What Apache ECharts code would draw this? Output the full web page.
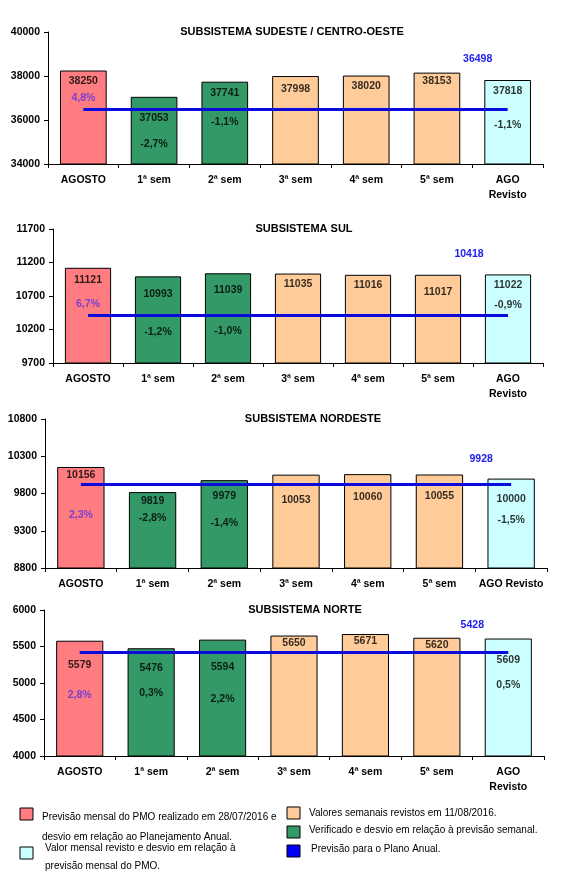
<!DOCTYPE html>
<html><head><meta charset="utf-8">
<script src="https://cdn.jsdelivr.net/npm/echarts@6/dist/echarts.min.js"></script>
<style>html,body{margin:0;padding:0;background:#fff}#c{width:572px;height:892px}</style>
</head><body><div id="c"></div>
<script>
// ---------- DATA ----------
const categories = ['AGOSTO', '1ª sem', '2ª sem', '3ª sem', '4ª sem', '5ª sem', 'AGO\nRevisto'];
const categoriesNE = ['AGOSTO', '1ª sem', '2ª sem', '3ª sem', '4ª sem', '5ª sem', 'AGO Revisto'];

const titleSE = 'SUBSISTEMA SUDESTE / CENTRO-OESTE';
const valuesSE = [38250, 37053, 37741, 37998, 38020, 38153, 37818];
const pctSE = ['4,8%', '-2,7%', '-1,1%', '', '', '', '-1,1%'];
const planSE = 36498;
const ticksSE = { min: 34000, max: 40000, interval: 2000 };

const titleS = 'SUBSISTEMA SUL';
const valuesS = [11121, 10993, 11039, 11035, 11016, 11017, 11022];
const pctS = ['6,7%', '-1,2%', '-1,0%', '', '', '', '-0,9%'];
const planS = 10418;
const ticksS = { min: 9700, max: 11700, interval: 500 };

const titleNE = 'SUBSISTEMA NORDESTE';
const valuesNE = [10156, 9819, 9979, 10053, 10060, 10055, 10000];
const pctNE = ['2,3%', '-2,8%', '-1,4%', '', '', '', '-1,5%'];
const planNE = 9928;
const ticksNE = { min: 8800, max: 10800, interval: 500 };

const titleN = 'SUBSISTEMA NORTE';
const valuesN = [5579, 5476, 5594, 5650, 5671, 5620, 5609];
const pctN = ['2,8%', '0,3%', '2,2%', '', '', '', '0,5%'];
const planN = 5428;
const ticksN = { min: 4000, max: 6000, interval: 500 };

const legendLeft = [
  { color: '#FF7C80', lines: ['Previsão mensal do PMO realizado em 28/07/2016 e', 'desvio em relação ao Planejamento Anual.'] },
  { color: '#CCFFFF', lines: ['Valor mensal revisto e desvio em relação à', 'previsão mensal do PMO.'] }
];
const legendRight = [
  { color: '#FFCC99', lines: ['Valores semanais revistos em 11/08/2016.'] },
  { color: '#339966', lines: ['Verificado e desvio em relação à previsão semanal.'] },
  { color: '#0000FF', lines: ['Previsão para o Plano Anual.'] }
];

// ---------- STYLE / LAYOUT ----------
const FONT = '"Liberation Sans", Arial, sans-serif';
const barColors = ['#FF7C80', '#339966', '#339966', '#FFCC99', '#FFCC99', '#FFCC99', '#CCFFFF'];
const LINE_COLOR = '#0A0ADC';
const PCT_FIRST_COLOR = '#5B30E6';

// label placement (pixels below the bar top, as in the source layout)
const panels = [
  { title: titleSE, cats: categories, values: valuesSE, pct: pctSE, plan: planSE, ticks: ticksSE,
    grid: { left: 48, top: 32, width: 495, height: 132 }, titleX: 292,
    valOff: [11, 21, 11, 13, 11, 8, 11], pctOff: [28, 47, 40, 0, 0, 0, 45], planOffset: [-30, -39] },
  { title: titleS, cats: categories, values: valuesS, pct: pctS, plan: planS, ticks: ticksS,
    grid: { left: 53, top: 229, width: 490, height: 134 }, titleX: 304,
    valOff: [12, 18, 17, 11, 10, 17, 11], pctOff: [36, 56, 58, 0, 0, 0, 31], planOffset: [-39, -50] },
  { title: titleNE, cats: categoriesNE, values: valuesNE, pct: pctNE, plan: planNE, ticks: ticksNE,
    grid: { left: 45, top: 419, width: 502, height: 149 }, titleX: 313,
    valOff: [8, 9, 16, 25, 23, 22, 21], pctOff: [48, 26, 43, 0, 0, 0, 42], planOffset: [-30, -14] },
  { title: titleN, cats: categories, values: valuesN, pct: pctN, plan: planN, ticks: ticksN,
    grid: { left: 44, top: 610, width: 500, height: 146 }, titleX: 305,
    valOff: [24, 20, 27, 8, 7, 7, 22], pctOff: [54, 45, 59, 0, 0, 0, 47], planOffset: [-36, -16] }
];

const grids = [], xAxes = [], yAxes = [], series = [], graphics = [];
const labelFont = { fontSize: 10.5, fontWeight: 'bold', fontFamily: FONT };

panels.forEach((p, i) => {
  grids.push(Object.assign({ containLabel: false }, p.grid));
  xAxes.push({
    type: 'category', gridIndex: i, data: p.cats,
    axisLine: { show: true, lineStyle: { color: '#000', width: 1 } },
    axisTick: { show: true, alignWithLabel: false, length: 4, lineStyle: { color: '#000' } },
    axisLabel: { interval: 0, color: '#000', fontWeight: 'bold', fontSize: 10.5, fontFamily: FONT, margin: 9, lineHeight: 15 },
    splitLine: { show: false }
  });
  yAxes.push({
    type: 'value', gridIndex: i, min: p.ticks.min, max: p.ticks.max, interval: p.ticks.interval,
    axisLine: { show: true, lineStyle: { color: '#000', width: 1 } },
    axisTick: { show: true, length: 4, lineStyle: { color: '#000' } },
    axisLabel: { color: '#000', fontWeight: 'bold', fontSize: 10.5, fontFamily: FONT, margin: 8,
      formatter: (v) => String(v) },
    splitLine: { show: false }
  });
  // bars + plan line
  series.push({
    type: 'bar', xAxisIndex: i, yAxisIndex: i, barWidth: '66%', z: 2,
    data: p.values.map((v, k) => ({ value: v, itemStyle: { color: barColors[k], borderColor: '#000', borderWidth: 1 } })),
    label: { show: false },
    markLine: {
      silent: true, symbol: 'none', animation: false, z: 5,
      lineStyle: { color: LINE_COLOR, width: 3, type: 'solid' },
      label: { show: false },
      data: [[{ coord: [0, p.plan] }, { coord: [p.cats.length - 1, p.plan] }]]
    },
    markPoint: {
      silent: true, symbol: 'circle', symbolSize: 0, animation: false,
      data: [{ coord: [p.cats.length - 1, p.plan], value: p.plan }],
      label: { show: true, position: 'top', offset: p.planOffset, formatter: String(p.plan),
        color: '#2020EE', fontWeight: 'bold', fontSize: 10.5, fontFamily: FONT }
    }
  });
  // value labels (drawn above the plan line)
  series.push({
    type: 'scatter', xAxisIndex: i, yAxisIndex: i, symbolSize: 0, z: 10, silent: true,
    data: p.values.map((v, k) => ({ value: v,
      label: { show: true, position: 'inside', offset: [0, p.valOff[k]], formatter: String(v),
        color: '#000', ...labelFont } }))
  });
  // percentage labels
  series.push({
    type: 'scatter', xAxisIndex: i, yAxisIndex: i, symbolSize: 0, z: 10, silent: true,
    data: p.values.map((v, k) => p.pct[k] ? ({ value: v,
      label: { show: true, position: 'inside', offset: [0, p.pctOff[k]], formatter: p.pct[k],
        color: k === 0 ? PCT_FIRST_COLOR : '#000', ...labelFont } }) : '-')
  });
  graphics.push({
    type: 'text', x: p.titleX, y: p.grid.top,
    style: { text: p.title, fill: '#000', font: 'bold 11px ' + FONT, textAlign: 'center', textVerticalAlign: 'middle' }
  });
});

// legend graphics
function addLegend(items, rectX, textXs, ys, lineH) {
  items.forEach((it, k) => {
    const y = ys[k];
    graphics.push({ type: 'rect', shape: { x: rectX, y: y.r, width: 13, height: 12 },
      style: { fill: it.color, stroke: '#000', lineWidth: 1 } });
    it.lines.forEach((ln, j) => {
      graphics.push({ type: 'text', x: textXs[k], y: y.t + j * lineH[k],
        style: { text: ln, fill: '#000', font: '10px ' + FONT, textVerticalAlign: 'middle' } });
    });
  });
}
addLegend(legendLeft, 20, [42, 45], [{ r: 808, t: 817 }, { r: 847, t: 848 }], [20, 18]);
addLegend(legendRight, 287, [309, 309, 311], [{ r: 807, t: 813 }, { r: 826, t: 830 }, { r: 845, t: 849 }], [18, 18, 18]);

const chart = echarts.init(document.getElementById('c'), null, { renderer: 'canvas' });
chart.setOption({
  animation: false,
  backgroundColor: '#fff',
  grid: grids, xAxis: xAxes, yAxis: yAxes, series: series, graphic: graphics
});
</script>
</body></html>
